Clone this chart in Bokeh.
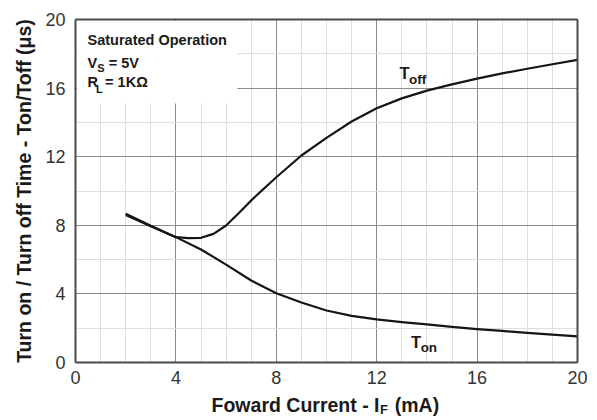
from bokeh.plotting import figure
from bokeh.models import Range1d, FixedTicker, Label, LinearAxis
from bokeh.embed import file_html
from bokeh.resources import INLINE

# ---- data ----
x_ticks = [0, 4, 8, 12, 16, 20]
y_ticks = [0, 4, 8, 12, 16, 20]
x_minor = list(range(0, 21))
y_minor = list(range(0, 21, 2))

toff_x = [2, 3, 4, 4.5, 5, 5.5, 6, 6.5, 7, 8, 9, 10, 11, 12, 13, 14, 15, 16, 17, 18, 19, 20]
toff_y = [8.67, 7.97, 7.31, 7.25, 7.27, 7.5, 7.99, 8.7, 9.45, 10.8, 12.07, 13.1, 14.05, 14.82,
          15.4, 15.85, 16.22, 16.55, 16.86, 17.13, 17.39, 17.65]

ton_x = [2, 3, 4, 5, 6, 7, 8, 9, 10, 11, 12, 13, 14, 15, 16, 17, 18, 19, 20]
ton_y = [8.6, 7.95, 7.31, 6.59, 5.71, 4.78, 4.04, 3.5, 3.03, 2.72, 2.51, 2.35, 2.22, 2.08,
         1.95, 1.84, 1.73, 1.62, 1.52]

y_label = "Turn on / Turn off Time - Ton/Toff (\u03bcs)"
x_label_main = "Foward Current - I"
x_label_sub = "F"
x_label_tail = "(mA)"

FONT = "Liberation Sans"
W, H = 597, 420
LEFT, RIGHT, TOP, BOTTOM = 75, 577, 19, 362   # pixel edges of the 0..20 x 0..20 box
px_x = (RIGHT - LEFT) / 20.0
px_y = (BOTTOM - TOP) / 20.0
# the frame covers the whole canvas; axes are pinned at the data box edges
x_rng = Range1d(-LEFT / px_x, (W - LEFT) / px_x)
y_rng = Range1d(-(H - BOTTOM) / px_y, 20 + TOP / px_y)

AXIS_COLOR = "#4a4a4a"

p = figure(width=W, height=H, x_range=x_rng, y_range=y_rng,
           output_backend="svg", toolbar_location=None, min_border=0,
           min_border_left=0, min_border_right=0, min_border_top=0, min_border_bottom=0)
p.background_fill_color = "white"
p.border_fill_color = "white"
p.outline_line_color = None

xa = p.xaxis[0]
ya = p.yaxis[0]
xa.ticker = FixedTicker(ticks=x_ticks, minor_ticks=x_minor)
ya.ticker = FixedTicker(ticks=y_ticks, minor_ticks=y_minor)
xa.fixed_location = 0
ya.fixed_location = 0
xa.bounds = (0, 20)
ya.bounds = (0, 20)

for g in (p.xgrid, p.ygrid):
    g.grid_line_color = "#8c8c8c"
    g.grid_line_width = 1
    g.minor_grid_line_color = "#dedede"
    g.minor_grid_line_width = 1
    g.cross_bounds = (0, 20)
    g.bounds = (0, 20)

for ax in (xa, ya):
    ax.major_tick_out = 0
    ax.major_tick_in = 0
    ax.minor_tick_out = 0
    ax.minor_tick_in = 0
    ax.axis_line_color = AXIS_COLOR
    ax.axis_line_width = 2
    ax.major_label_text_font = FONT
    ax.major_label_text_font_size = "18px"
    ax.major_label_text_color = "#333333"

xa.major_label_standoff = 8
ya.major_label_standoff = 10
ya.axis_label = y_label
ya.axis_label_text_font = FONT
ya.axis_label_text_font_size = "19.5px"
ya.axis_label_text_font_style = "bold"
ya.axis_label_text_color = "#1a1a1a"
ya.axis_label_standoff = 7

# top and right edges of the box as bare pinned axes
for loc in ("below", "left"):
    edge = LinearAxis(ticker=FixedTicker(ticks=[]), bounds=(0, 20), fixed_location=20,
                      axis_line_color=AXIS_COLOR, axis_line_width=2,
                      major_tick_out=0, major_tick_in=0, minor_tick_out=0, minor_tick_in=0,
                      major_label_text_font_size="0px")
    p.add_layout(edge, loc)

# white panel behind the conditions text
p.quad(left=[0.06], right=[6.45], bottom=[15.1], top=[19.93], fill_color="white", line_color=None)

# curves
p.line(toff_x, toff_y, line_color="#151515", line_width=2.2, line_join="round")
p.line(ton_x, ton_y, line_color="#151515", line_width=2.2, line_join="round")


def lab(x, y, text, size, bold=True, color="#1a1a1a"):
    p.add_layout(Label(x=x, y=y, text=text, text_font=FONT, text_font_size=size,
                       text_font_style="bold" if bold else "normal", text_color=color,
                       text_baseline="alphabetic", text_align="left", y_offset=6))


# conditions box
lab(0.48, 18.43, "Saturated Operation", "14.5px")
lab(0.48, 17.14, "V", "14.5px")
lab(0.87, 16.85, "S", "11px")
lab(1.32, 17.14, "= 5V", "14.5px")
lab(0.48, 15.98, "R", "14.5px")
lab(0.82, 15.60, "L", "11px")
lab(1.18, 15.98, "= 1K\u03a9", "14.5px")

# curve labels
lab(12.91, 16.54, "T", "16.5px")
lab(13.29, 16.17, "off", "13.5px")
lab(13.37, 0.86, "T", "16.5px")
lab(13.75, 0.51, "on", "13.5px")

# x axis title with subscript
lab(5.42, -2.84, x_label_main, "19.5px")
lab(12.13, -3.08, x_label_sub, "13px")
lab(12.72, -2.84, x_label_tail, "19.5px")

open("out.html", "w").write(file_html(p, INLINE))
